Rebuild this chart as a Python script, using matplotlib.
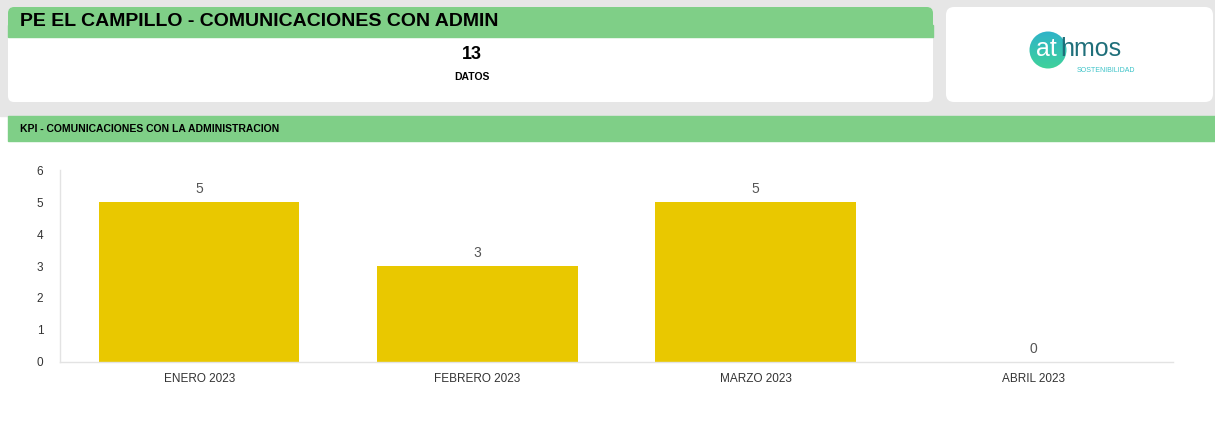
import numpy as np
import matplotlib
matplotlib.use('Agg')
import matplotlib.pyplot as plt
from matplotlib.patches import FancyBboxPatch, Rectangle, Circle

plt.rcParams['font.family'] = ['Liberation Sans', 'DejaVu Sans']

# datos
meses = ['ENERO 2023', 'FEBRERO 2023', 'MARZO 2023', 'ABRIL 2023']
comunicaciones = [5, 3, 5, 0]
total_datos = 13
titulo = 'PE EL CAMPILLO - COMUNICACIONES CON ADMIN'
titulo_kpi = 'KPI - COMUNICACIONES CON LA ADMINISTRACION'

W, H = 1215, 428
verde = '#7fcf87'
gris = '#e6e6e6'
amarillo = '#e9c800'

fig = plt.figure(figsize=(W / 100, H / 100), dpi=100)
fig.patch.set_facecolor('white')

# capa de fondo en pixeles
bg = fig.add_axes([0, 0, 1, 1])
bg.set_xlim(0, W)
bg.set_ylim(H, 0)
bg.axis('off')

bg.add_patch(Rectangle((0, 0), W, 116, color=gris, zorder=0))
bg.add_patch(FancyBboxPatch((8, 7), 925, 95, boxstyle='round,pad=0,rounding_size=6',
                            fc='white', ec='none', zorder=1))
bg.add_patch(FancyBboxPatch((8, 7), 925, 30, boxstyle='round,pad=0,rounding_size=6',
                            fc=verde, ec='none', zorder=2))
bg.add_patch(Rectangle((8, 25), 925, 12, color=verde, zorder=2))
bg.text(20, 21, titulo, fontsize=14, fontweight='bold', va='center', ha='left', zorder=3)
bg.text(472, 54, str(total_datos), fontsize=13, fontweight='bold', ha='center', va='center', zorder=3)
bg.text(472, 77, 'DATOS', fontsize=7.5, fontweight='bold', ha='center', va='center', zorder=3)

# logo
bg.add_patch(FancyBboxPatch((946, 7), 267, 95, boxstyle='round,pad=0,rounding_size=8',
                            fc='white', ec='none', zorder=1))
grad = np.linspace(0, 1, 100).reshape(-1, 1)
img = bg.imshow(grad, cmap=matplotlib.colors.LinearSegmentedColormap.from_list('g', ['#2fb3c9', '#3fd29a']),
                extent=(1029, 1067, 69, 31), zorder=2, aspect='auto')
circ = Circle((1048, 50), 18.5, transform=bg.transData)
img.set_clip_path(circ)
bg.text(1036, 49, 'at', fontsize=18, color='white', ha='left', va='center', zorder=3)
bg.text(1060, 49, 'hmos', fontsize=18, color='#1f6f7a', ha='left', va='center', zorder=3)
bg.text(1106, 70, 'SOSTENIBILIDAD', fontsize=5, color='#3cc3c8', ha='center', va='center', zorder=3)

# barra KPI
bg.add_patch(Rectangle((8, 116), W - 8, 25, color=verde, zorder=1))
bg.text(20, 129, titulo_kpi, fontsize=7.5, fontweight='bold', ha='left', va='center', zorder=3)

# grafico
ax = fig.add_axes([60 / W, 1 - 362 / H, (1173 - 60) / W, (362 - 170) / H])
ax.set_facecolor('none')
x = np.arange(len(meses))
barras = ax.bar(x, comunicaciones, width=0.72, color=amarillo)
ax.set_xlim(-0.5, len(meses) - 0.5)
ax.set_ylim(0, 6)
ax.set_yticks(range(0, 7))
ax.set_xticks(x)
ax.set_xticklabels(meses)
ax.tick_params(axis='both', length=0, labelsize=8.5, colors='#333333')
ax.tick_params(axis='x', pad=8)
ax.tick_params(axis='y', pad=12)
for lado in ['top', 'right']:
    ax.spines[lado].set_visible(False)
for lado in ['left', 'bottom']:
    ax.spines[lado].set_color('#e3e3e3')
    ax.spines[lado].set_linewidth(1)
for b, v in zip(barras, comunicaciones):
    ax.text(b.get_x() + b.get_width() / 2, v + 0.2, str(v), ha='center', va='bottom',
            fontsize=10, color='#555555')

fig.savefig('out.png', dpi=100)
